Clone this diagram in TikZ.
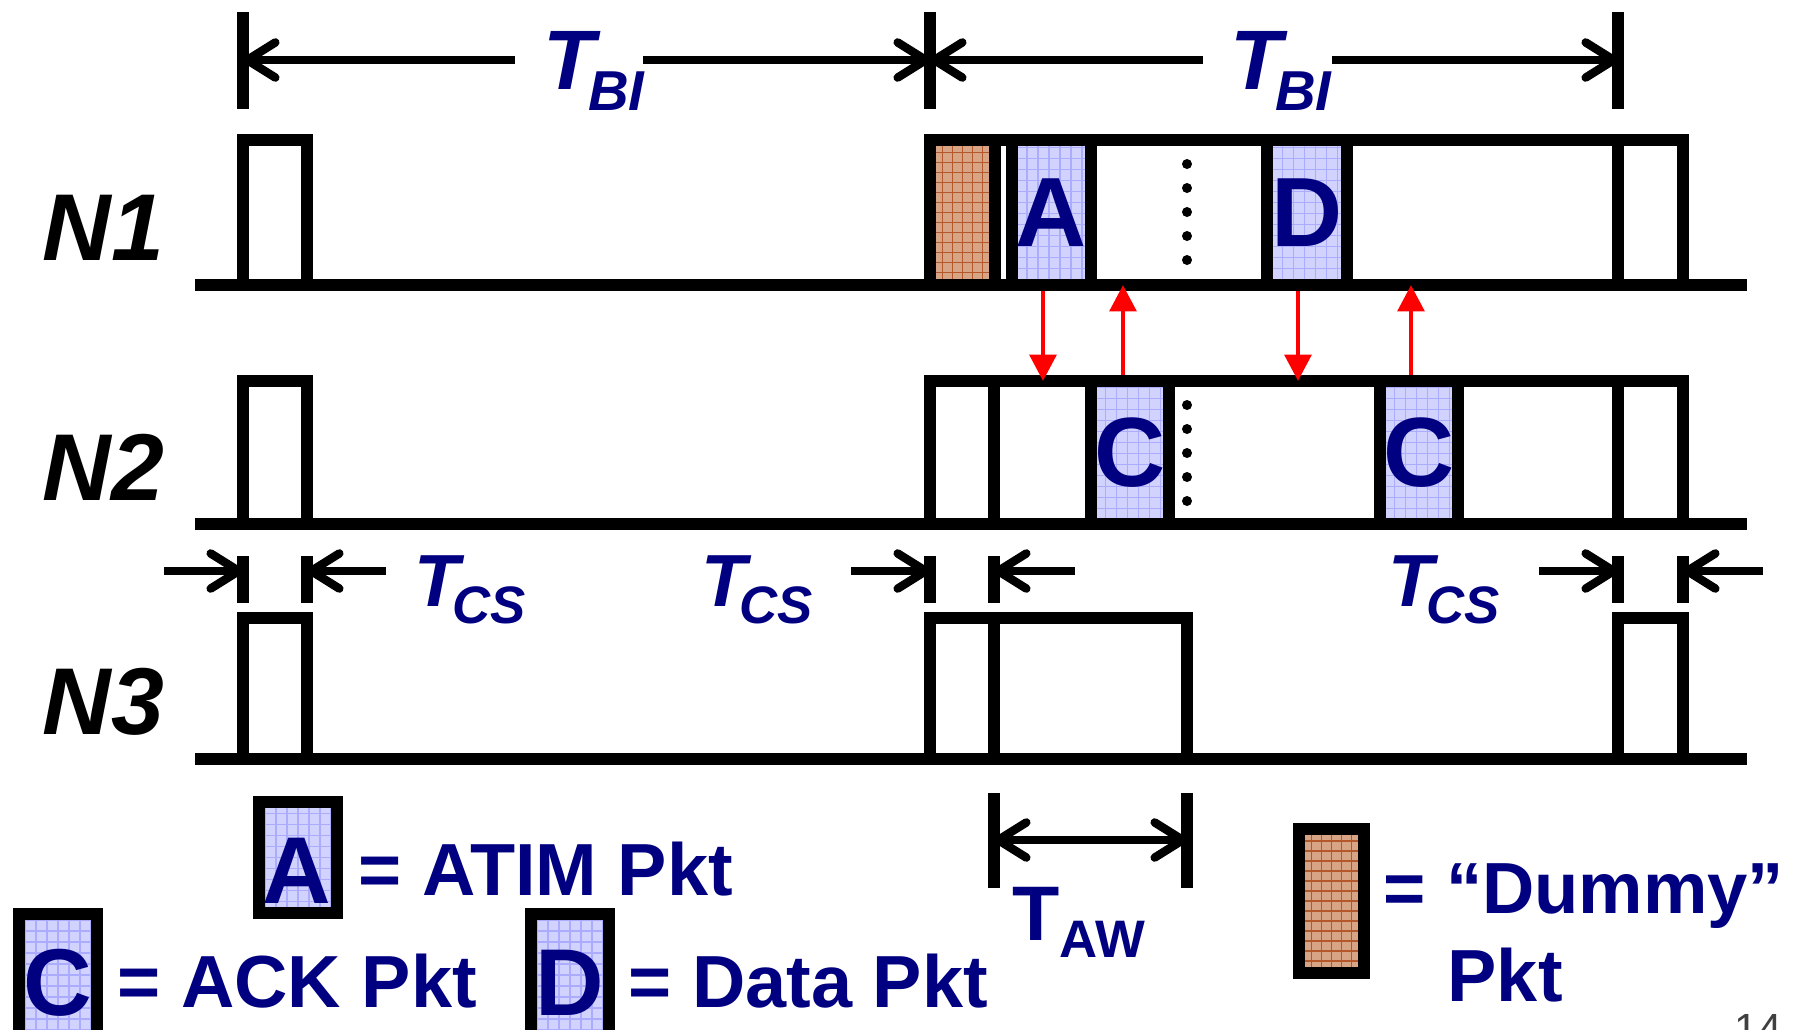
\documentclass[tikz,border=0pt]{standalone}
\usepackage{fontspec}
\setmainfont{Liberation Sans}
\usetikzlibrary{arrows.meta}
\definecolor{pktnavy}{RGB}{0,0,128}
\definecolor{pktblue}{RGB}{210,210,255}
\definecolor{pktgrid}{RGB}{172,172,255}
\definecolor{dumbrown}{RGB}{216,164,134}
\definecolor{dumgrid}{RGB}{180,88,44}

\begin{document}
\begin{tikzpicture}[x=0.01cm, y=-0.01cm,
    wave/.style={line width=3.3pt},
    tick/.style={line width=3.2pt},
    dim/.style={line width=2.4pt, -{Straight Barb[length=8pt, width=10pt, round]}},
    dimboth/.style={line width=2.4pt, {Straight Barb[length=8pt, width=10pt, round]}-{Straight Barb[length=8pt, width=10pt, round]}},
    sig/.style={red, line width=1.4pt, -{Triangle[length=7.5pt, width=7.5pt]}},
    pkt/.style={draw, line width=3.3pt, fill=pktblue, text=pktnavy, inner sep=0pt,
        font=\bfseries\fontsize{28}{28}\selectfont,
        path picture={\draw[pktgrid, line width=0.35pt] (path picture bounding box.south west) grid[step=0.11cm] (path picture bounding box.north east);}},
    dummy/.style={draw, line width=3.3pt, fill=dumbrown, inner sep=0pt,
        path picture={\draw[dumgrid, line width=0.45pt] (path picture bounding box.south west) grid[step=0.1cm] (path picture bounding box.north east);}},
    letter/.style={text=pktnavy, inner sep=0pt, font=\bfseries\fontsize{27}{27}\selectfont},
    nlbl/.style={anchor=base west, inner sep=0pt, font=\bfseries\itshape\fontsize{27}{27}\selectfont},
    tlbl/.style={anchor=base west, inner sep=0pt, text=pktnavy},
    keytxt/.style={anchor=base west, inner sep=0pt, text=pktnavy, font=\bfseries\fontsize{21}{21}\selectfont}]
    \useasboundingbox (0,0) rectangle (1805,1029);

    % Beacon intervals
    \foreach \x/\n in {243/k1, 930/k2, 1618/k3} {
        \draw[tick] (\x,12) -- (\x,109);
        \coordinate (\n) at (\x,60);
    }
    \node[tlbl] (tbi1) at (543,89) {\bfseries\itshape\fontsize{24}{24}\selectfont T\kern-2pt\raisebox{-6pt}{\fontsize{16}{16}\selectfont BI}};
    \node[tlbl] (tbi2) at (1230,89) {\bfseries\itshape\fontsize{24}{24}\selectfont T\kern-2pt\raisebox{-6pt}{\fontsize{16}{16}\selectfont BI}};
    \coordinate (g1) at (515,60);
    \coordinate (g2) at (643,60);
    \coordinate (g3) at (1203,60);
    \coordinate (g4) at (1332,60);
    \draw[dim] (g1) -- (k1);
    \draw[dim] (g2) -- (k2);
    \draw[dim] (g3) -- (k2);
    \draw[dim] (g4) -- (k3);

    % Node labels
    \node[nlbl] (n1) at (42,260) {N1};
    \node[nlbl] (n2) at (42,500) {N2};
    \node[nlbl] (n3) at (42,734) {N3};

    % N1 row
    \draw[wave] (243,140) rectangle (307,285);
    \draw[wave] (930,140) rectangle (1683,285);
    \draw[wave] (1618,140) -- (1618,285);
    \node[dummy, minimum width=0.65cm, minimum height=1.45cm] (pDum) at (962.5,212.5) {};
    \node[pkt, minimum width=0.79cm, minimum height=1.45cm] (pA) at (1051.5,212.5) {A};
    \node[pkt, minimum width=0.80cm, minimum height=1.45cm] (pD) at (1307,212.5) {D};
    \foreach \k in {0,...,4} \fill (1187,164+24*\k) circle (0.05cm);
    \draw[wave] (195,285) -- (1747,285);

    % N2 row
    \draw[wave] (243,381) rectangle (307,524);
    \draw[wave] (930,381) rectangle (1683,524);
    \draw[wave] (994,381) -- (994,524);
    \draw[wave] (1618,381) -- (1618,524);
    \node[pkt, minimum width=0.78cm, minimum height=1.43cm] (pC1) at (1130,452.5) {C};
    \node[pkt, minimum width=0.78cm, minimum height=1.43cm] (pC2) at (1419,452.5) {C};
    \foreach \k in {0,...,4} \fill (1187,405+24*\k) circle (0.05cm);
    \draw[wave] (195,524) -- (1747,524);

    % Carrier sense times
    \foreach \x/\n in {243/c1, 307/c2, 930/c3, 994/c4, 1618/c5, 1683/c6} {
        \draw[tick] (\x,556) -- (\x,603);
        \coordinate (\n) at (\x,571);
    }
    \coordinate (s1) at (164,571);
    \coordinate (s2) at (386,571);
    \coordinate (s3) at (851,571);
    \coordinate (s4) at (1075,571);
    \coordinate (s5) at (1539,571);
    \coordinate (s6) at (1763,571);
    \draw[dim] (s1) -- (c1);
    \draw[dim] (s2) -- (c2);
    \draw[dim] (s3) -- (c3);
    \draw[dim] (s4) -- (c4);
    \draw[dim] (s5) -- (c5);
    \draw[dim] (s6) -- (c6);
    \node[tlbl] (tcs1) at (414,606) {\bfseries\itshape\fontsize{21}{21}\selectfont T\kern-2pt\raisebox{-5pt}{\fontsize{15}{15}\selectfont CS}};
    \node[tlbl] (tcs2) at (701,606) {\bfseries\itshape\fontsize{21}{21}\selectfont T\kern-2pt\raisebox{-5pt}{\fontsize{15}{15}\selectfont CS}};
    \node[tlbl] (tcs3) at (1388,606) {\bfseries\itshape\fontsize{21}{21}\selectfont T\kern-2pt\raisebox{-5pt}{\fontsize{15}{15}\selectfont CS}};

    % N3 row
    \draw[wave] (243,618) rectangle (307,759);
    \draw[wave] (930,618) rectangle (1187,759);
    \draw[wave] (994,618) -- (994,759);
    \draw[wave] (1618,618) rectangle (1683,759);
    \draw[wave] (195,759) -- (1747,759);

    % ATIM window
    \draw[tick] (994,793) -- (994,888);
    \draw[tick] (1187,793) -- (1187,888);
    \coordinate (w1) at (994,840);
    \coordinate (w2) at (1187,840);
    \draw[dimboth] (w1) -- (w2);
    \node[tlbl] (taw) at (1012,940) {\bfseries\fontsize{22}{22}\selectfont T\raisebox{-5pt}{\fontsize{15}{15}\selectfont AW}};

    % Signalling
    \coordinate (top2) at (0,381);
    \coordinate (bot1) at (0,285);
    \draw[sig] ([xshift=-0.085cm]pA.south) -- ([xshift=-0.085cm]pA.south |- top2);
    \draw[sig] ([xshift=-0.07cm]pC1.north) -- ([xshift=-0.07cm]pC1.north |- bot1);
    \draw[sig] ([xshift=-0.09cm]pD.south) -- ([xshift=-0.09cm]pD.south |- top2);
    \draw[sig] ([xshift=-0.08cm]pC2.north) -- ([xshift=-0.08cm]pC2.north |- bot1);

    % Legend
    \node[pkt, minimum width=0.78cm, minimum height=1.11cm] (keyA) at (298,857.5) {};
    \node[letter] (keyAl) at (297,871) {A};
    \node[keytxt] (txtA) at (358,895) {= ATIM Pkt};
    \node[pkt, minimum width=0.78cm, minimum height=1.22cm] (keyC) at (58,975) {};
    \node[letter] (keyCl) at (58,983) {C};
    \node[keytxt] (txtC) at (117,1007) {= ACK Pkt};
    \node[pkt, minimum width=0.78cm, minimum height=1.22cm] (keyD) at (570,975) {};
    \node[letter] (keyDl) at (570,983) {D};
    \node[keytxt] (txtD) at (628,1007) {= Data Pkt};
    \node[dummy, minimum width=0.65cm, minimum height=1.44cm] (keyDum) at (1331.5,901) {};
    \node[keytxt, font=\bfseries\fontsize{20.6}{20.6}\selectfont] (txtDum) at (1383,913) {= “Dummy”};
    \node[keytxt] (txtPkt) at (1447,1001) {Pkt};
    \node[anchor=base west, inner sep=0pt, text=black!75, font=\fontsize{12}{12}\selectfont] (pg) at (1734,1043) {14};
\end{tikzpicture}
\end{document}
